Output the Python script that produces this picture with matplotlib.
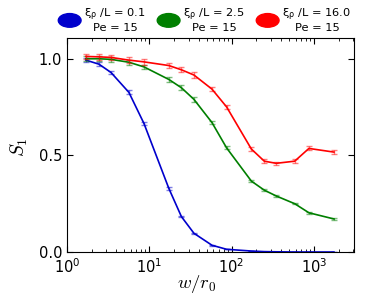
import matplotlib
matplotlib.use('Agg')
import matplotlib.pyplot as plt
import matplotlib.patches as mpatches
from matplotlib.legend_handler import HandlerPatch

# window size w/r0
w = [1.7, 2.45, 3.43, 5.66, 8.63, 17.3, 24.6, 34.9, 57.8, 87, 174, 250, 349, 585, 871, 1754]

# S1 for the three correlation lengths
s_blue = [0.993, 0.972, 0.929, 0.826, 0.665, 0.329, 0.183, 0.097, 0.035, 0.014, 0.005, 0.002, 0.001, 0.0, 0.0, 0.0]
s_green = [1.0, 1.0, 0.997, 0.982, 0.958, 0.893, 0.85, 0.79, 0.67, 0.539, 0.367, 0.32, 0.29, 0.25, 0.203, 0.171]
s_red = [1.012, 1.01, 1.007, 0.993, 0.984, 0.965, 0.943, 0.916, 0.843, 0.751, 0.533, 0.47, 0.459, 0.47, 0.536, 0.517]

e_blue = [0.01, 0.01, 0.01, 0.01, 0.01, 0.006, 0.004, 0.003, 0.002, 0.001, 0.001, 0.0, 0.0, 0.0, 0.0, 0.0]
e_green = [0.012, 0.012, 0.012, 0.012, 0.012, 0.012, 0.012, 0.012, 0.01, 0.008, 0.006, 0.005, 0.005, 0.004, 0.004, 0.003]
e_red = [0.014, 0.014, 0.014, 0.014, 0.014, 0.013, 0.013, 0.013, 0.012, 0.011, 0.01, 0.009, 0.009, 0.009, 0.01, 0.009]

labels = ['$\\mathregular{\\xi_\\rho}$ /L = 0.1\nPe = 15',
          '$\\mathregular{\\xi_\\rho}$ /L = 2.5\nPe = 15',
          '$\\mathregular{\\xi_\\rho}$ /L = 16.0\nPe = 15']
colors = ['#0000cc', '#007f00', '#ff0000']

fig = plt.figure(figsize=(3.74, 3.0), dpi=100)
ax = fig.add_axes([0.179, 0.16, 0.768, 0.713])

for s, e, c in zip([s_blue, s_green, s_red], [e_blue, e_green, e_red], colors):
    ax.plot(w, s, color=c, lw=1.2)
    ax.errorbar(w, s, yerr=e, fmt='none', ecolor=c, alpha=0.5, capsize=2.0, elinewidth=1.0, capthick=1.0)

ax.set_xscale('log')
ax.set_xlim(1, 10**3.49)
ax.set_ylim(0, 1.107)
ax.set_yticks([0.0, 0.5, 1.0])
ax.set_yticklabels(['0.0', '0.5', '1.0'])
ax.tick_params(which='both', direction='in', top=True, right=True, labelsize=10.5)
ax.tick_params(which='major', length=4)
ax.tick_params(which='minor', length=2)
ax.set_xlabel('$w/r_0$', fontsize=13.5, math_fontfamily='cm')
ax.set_ylabel('$S_1$', fontsize=14, math_fontfamily='cm')
ax.xaxis.set_label_coords(0.45, -0.1)
ax.yaxis.set_label_coords(-0.13, 0.49)


def ellipse(legend, orig_handle, xdescent, ydescent, width, height, fontsize):
    return mpatches.Ellipse((width / 2 - xdescent, height / 2 - ydescent), width, height * 1.25)


handles = [mpatches.Patch(facecolor=c, edgecolor=c) for c in colors]
leg = ax.legend(handles, labels, loc='lower center', bbox_to_anchor=(0.48, 0.995), ncol=3,
                frameon=False, fontsize=8.2, handlelength=2.0, handleheight=1.1,
                handletextpad=0.3, columnspacing=1.0, borderaxespad=0.1,
                handler_map={mpatches.Patch: HandlerPatch(patch_func=ellipse)})
for t in leg.get_texts():
    t.set_multialignment('center')
    t.set_linespacing(1.0)

fig.savefig('out.png', dpi=100)
